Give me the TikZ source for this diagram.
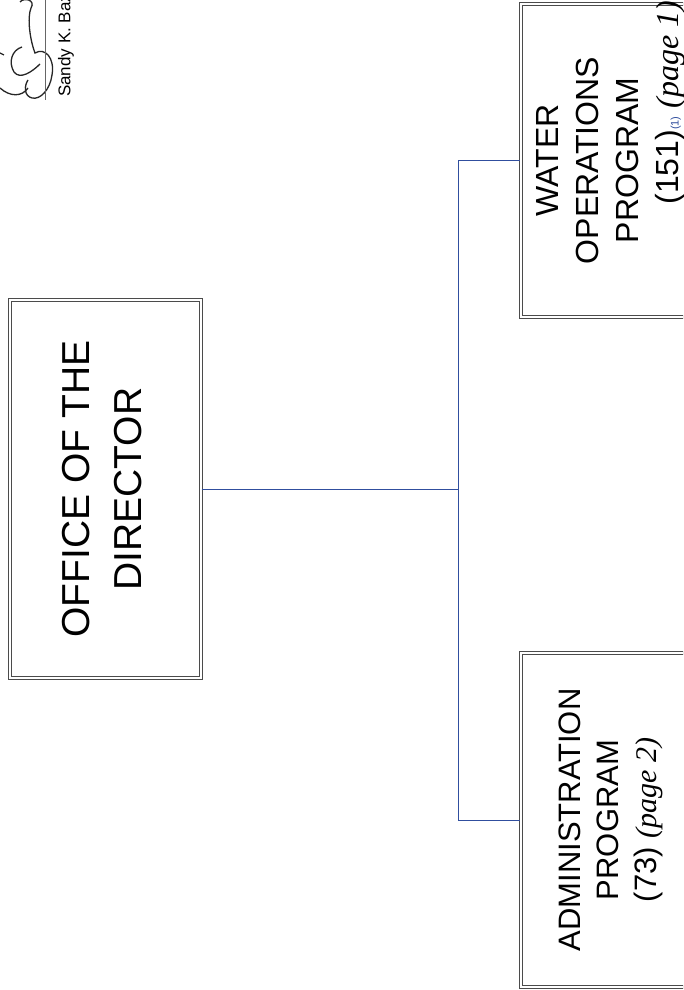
\documentclass[tikz,border=0pt]{standalone}
\usepackage{fontspec}
\setmainfont{Liberation Sans}
\newfontfamily\handfont{Liberation Serif}
\usepackage{graphicx}
\definecolor{orgblue}{RGB}{48,78,158}
\definecolor{boxgray}{RGB}{75,75,75}
\newcommand{\rotlines}[1]{\rotatebox{90}{\begin{tabular}{@{}c@{}}#1\end{tabular}}}

\begin{document}
\begin{tikzpicture}[x=1pt,y=-1pt]
	\tikzset{
		progbox/.style={draw=boxgray, line width=1.1pt, double=white, double distance=1.5pt, inner sep=0pt},
		link/.style={draw=orgblue, line width=0.8pt},
	}
	\useasboundingbox (0,0) rectangle (683,990);
	\fill[white] (0,0) rectangle (683,990);
	\clip (0,0) rectangle (683,990);

	% signature
	\draw[line width=1.3pt, black!85] (20,2) .. controls (24,-3) and (36,0) .. (31,8) .. controls (27,18) and (30,40) .. (35,53) .. controls (45,47) and (55,58) .. (52,75) .. controls (50,90) and (40,100) .. (32,98) .. controls (24,96) and (24,86) .. (28,80);
	\draw[line width=1.3pt, black!85] (22,47) .. controls (12,50) and (8,62) .. (14,72) .. controls (20,80) and (32,72) .. (40,64);
	\draw[line width=1.3pt, black!85] (0,88) .. controls (10,97) and (22,97) .. (28,88);
	\draw[line width=1.3pt, black!85] (0,53) -- (4,55);
	\draw[black!60] (45,0) -- (45,100);
	\node[rotate=90, anchor=west, inner sep=0pt, font=\fontsize{17}{17}\selectfont] (sign) at (66,97) {Sandy K. Baz};

	% boxes
	\node[progbox, minimum width=191pt, minimum height=378pt] (dir) at (105.5,489)
		{\fontsize{39}{52}\selectfont\rotlines{OFFICE OF THE\\DIRECTOR}};
	\node[progbox, minimum width=179pt, minimum height=313pt] (water) at (610.5,160.5)
		{\fontsize{32}{40}\selectfont\rotlines{WATER\\OPERATIONS\\PROGRAM\\(151){\fontsize{11}{11}\selectfont\color{orgblue}(1)}\rlap{\handfont\itshape\fontsize{32}{32}\selectfont\ (page 1)}}};
	\node[progbox, minimum width=179pt, minimum height=334pt] (admin) at (610.5,820)
		{\fontsize{31}{38}\selectfont\rotlines{ADMINISTRATION\\PROGRAM\\(73) {\handfont\itshape\fontsize{30}{30}\selectfont(page 2)}}};

	% connectors
	\coordinate (trunk) at (458,489);
	\draw[link] (dir.east) -- (trunk);
	\draw[link] (trunk) |- (water.west);
	\draw[link] (trunk) |- (admin.west);
\end{tikzpicture}
\end{document}
